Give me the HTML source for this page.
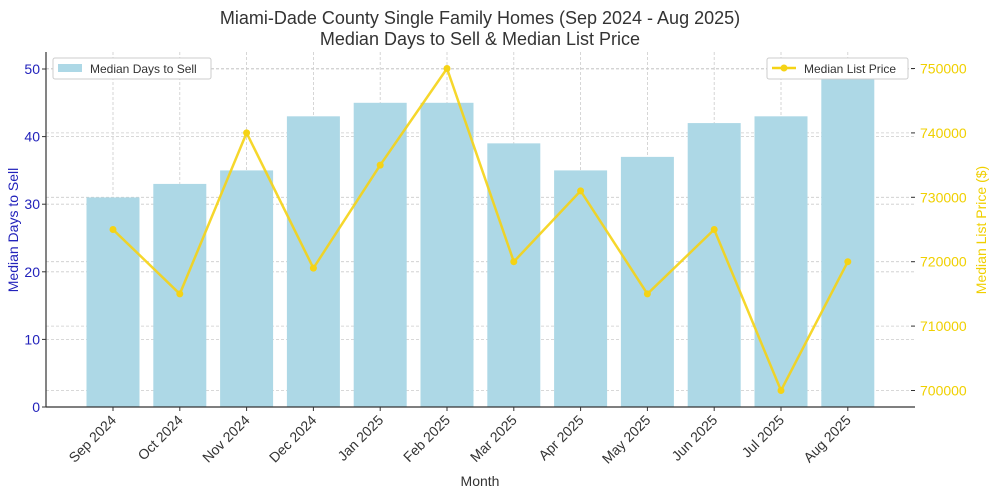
<!DOCTYPE html>
<html><head><meta charset="utf-8"><style>
html,body{margin:0;padding:0;background:#fff;}
svg{display:block;font-family:"Liberation Sans","DejaVu Sans",sans-serif;}
</style></head><body>
<svg id="chart" width="993" height="496" viewBox="0 0 993 496">
<g id="grid"></g>
<g id="bars"></g>
<g id="line"></g>
<g id="axes"></g>
<text x="480" y="24" text-anchor="middle" font-size="18" fill="#333">Miami-Dade County Single Family Homes (Sep 2024 - Aug 2025)</text>
<text x="480" y="45" text-anchor="middle" font-size="18" fill="#333">Median Days to Sell &amp; Median List Price</text>
<text x="480" y="486" text-anchor="middle" font-size="14" fill="#333">Month</text>
<text transform="translate(18,230) rotate(-90)" text-anchor="middle" font-size="14" fill="#2222bb">Median Days to Sell</text>
<text transform="translate(986,230) rotate(-90)" text-anchor="middle" font-size="14" fill="#f0d000">Median List Price ($)</text>
<g>
<rect x="53" y="58" width="158" height="21" fill="#fff" stroke="#ccc" rx="2"/>
<rect x="58" y="64" width="24" height="8" fill="#add8e6"/>
<text x="90" y="73" font-size="12" fill="#333">Median Days to Sell</text>
</g>
<g>
<rect x="767" y="58" width="141" height="21" fill="#fff" stroke="#ccc" rx="2"/>
<line x1="772" y1="68" x2="796" y2="68" stroke="#f5d315" stroke-width="2.5"/>
<circle cx="784" cy="68" r="3.5" fill="#f5d315"/>
<text x="804" y="73" font-size="12" fill="#333">Median List Price</text>
</g>
</svg>
<script>
const months=["Sep 2024","Oct 2024","Nov 2024","Dec 2024","Jan 2025","Feb 2025","Mar 2025","Apr 2025","May 2025","Jun 2025","Jul 2025","Aug 2025"];
const days=[31,33,35,43,45,45,39,35,37,42,43,49.5];
const prices=[725000,715000,740000,719000,735000,750000,720000,731000,715000,725000,700000,720000];
const leftTicks=[0,10,20,30,40,50];
const rightTicks=[700000,710000,720000,730000,740000,750000];
const NS="http://www.w3.org/2000/svg";
const L=46,R=915,B=407;
function x(i){return 113+i*66.8;}
function yL(v){return B-v*6.76;}
function yR(v){return 390.5-(v-700000)*0.00644;}
function mk(tag,attrs,parent,txt){const e=document.createElementNS(NS,tag);for(const k in attrs)e.setAttribute(k,attrs[k]);if(txt!==undefined)e.textContent=txt;document.getElementById(parent).appendChild(e);return e;}
months.forEach((m,i)=>{
 const g=mk('line',{x1:x(i),x2:x(i),y1:52,y2:B,stroke:'#ccc','stroke-dasharray':'3,2','stroke-width':0.8},'grid');
 
 
});
leftTicks.forEach(t=>{
 const g=mk('line',{x1:L,x2:R,y1:yL(t),y2:yL(t),stroke:'#ccc','stroke-dasharray':'3,2','stroke-width':0.8},'grid');
 
 
 const tx=mk('text',{x:L-6,y:yL(t)+5,'text-anchor':'end','font-size':14,fill:'#2222bb'},'axes',String(t));
 
 
 mk('line',{x1:L-4,x2:L,y1:yL(t),y2:yL(t),stroke:'#333'},'axes');
});
rightTicks.forEach(t=>{
 const g=mk('line',{x1:L,x2:R,y1:yR(t),y2:yR(t),stroke:'#ccc','stroke-dasharray':'3,2','stroke-width':0.8},'grid');
 
 
 mk('line',{x1:R-4,x2:R,y1:yR(t),y2:yR(t),stroke:'#333'},'axes');
 const tx=mk('text',{x:R+5,y:yR(t)+5,'font-size':14,fill:'#f0d000'},'axes',String(t));
 
 
});
days.forEach((d,i)=>{
 const b=mk('rect',{x:x(i)-26.5,y:yL(d),width:53,height:B-yL(d),fill:'#add8e6'},'bars');
 
 
});
const pl=mk('polyline',{points:prices.map((p,i)=>x(i)+','+yR(p)).join(' '),fill:'none',stroke:'#f5d315','stroke-width':2.5,'stroke-opacity':0.9},'line');


prices.forEach((p,i)=>{
 const c=mk('circle',{cx:x(i),cy:yR(p),r:3.5,fill:'#f5d315'},'line');
 
 
});
mk('line',{x1:L,x2:L,y1:52,y2:B,stroke:'#333','stroke-width':1.2},'axes');
mk('line',{x1:L,x2:R,y1:B,y2:B,stroke:'#333','stroke-width':1.2},'axes');
months.forEach((m,i)=>{
 mk('line',{x1:x(i),x2:x(i),y1:B,y2:B+4,stroke:'#333'},'axes');
 const t=mk('text',{transform:`translate(${x(i)+4},${B+14}) rotate(-45)`,'text-anchor':'end','font-size':14,fill:'#333'},'axes',m);
 
 
});
</script>
</body></html>
